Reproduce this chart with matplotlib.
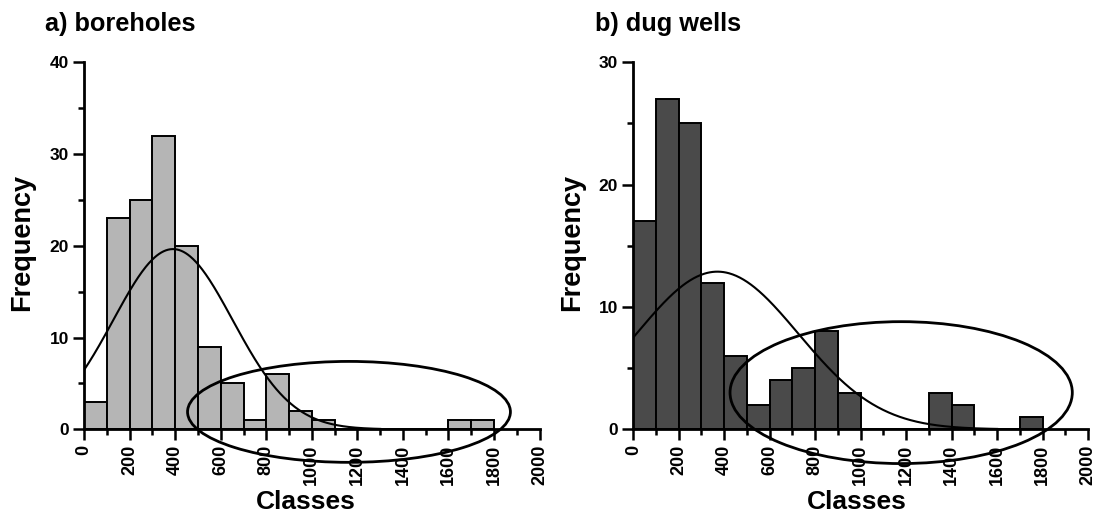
import numpy as np
import matplotlib
matplotlib.use("Agg")
import matplotlib.pyplot as plt
from matplotlib.patches import Ellipse
from matplotlib.ticker import MultipleLocator

plt.rcParams['font.family'] = ['Liberation Sans', 'DejaVu Sans']
plt.rcParams['font.weight'] = 'bold'

# Class edges (width 100) and frequencies
bin_starts = [0, 100, 200, 300, 400, 500, 600, 700, 800, 900,
              1000, 1100, 1200, 1300, 1400, 1500, 1600, 1700]
bin_width = 100
boreholes_freq = [3, 23, 25, 32, 20, 9, 5, 1, 6, 2, 1, 0, 0, 0, 0, 0, 1, 1]
dugwells_freq = [17, 27, 25, 12, 6, 2, 4, 5, 8, 3, 0, 0, 0, 3, 2, 0, 0, 1]

# Fitted normal curve parameters (mean, standard deviation)
boreholes_fit = (390, 262)
dugwells_fit = (370, 356)

# Highlight ellipses: centre x, centre y, width, height (data units)
boreholes_ellipse = (1163, 1.9, 1418, 11.0)
dugwells_ellipse = (1178, 3.0, 1505, 11.6)

x_ticks = [0, 200, 400, 600, 800, 1000, 1200, 1400, 1600, 1800, 2000]

fig = plt.figure(figsize=(10.96, 5.12), dpi=100)
ax_a = fig.add_axes([0.0768, 0.1615, 0.4155, 0.7168])
ax_b = fig.add_axes([0.5778, 0.1615, 0.4150, 0.7168])


def draw_panel(ax, freq, fit, ell, color, ymax, ystep, curve_end):
    ax.bar(bin_starts, freq, width=bin_width, align='edge', color=color,
           edgecolor='black', linewidth=1.4, zorder=2)
    n = sum(freq)
    mu, sd = fit
    xs = np.linspace(0, curve_end, 400)
    ys = n * bin_width / (sd * np.sqrt(2 * np.pi)) * np.exp(-0.5 * ((xs - mu) / sd) ** 2)
    ax.plot(xs, ys, color='black', linewidth=1.5, zorder=3)
    cx, cy, w, h = ell
    ax.add_patch(Ellipse((cx, cy), w, h, fill=False, edgecolor='black',
                         linewidth=2.0, clip_on=False, zorder=4))
    ax.set_xlim(0, 2000)
    ax.set_ylim(0, ymax)
    ax.set_xticks(x_ticks)
    ax.set_xticklabels([str(t) for t in x_ticks], rotation=90, fontsize=13,
                       fontweight='bold')
    ax.xaxis.set_minor_locator(MultipleLocator(100))
    ax.yaxis.set_major_locator(MultipleLocator(ystep))
    ax.yaxis.set_minor_locator(MultipleLocator(ystep / 2))
    for lab in ax.get_yticklabels():
        lab.set_fontsize(12.5)
        lab.set_fontweight('bold')
    ax.tick_params(which='major', length=8, width=1.8, direction='out', pad=3)
    ax.tick_params(which='minor', length=4.5, width=1.8, direction='out')
    for s in ('top', 'right'):
        ax.spines[s].set_visible(False)
    for s in ('left', 'bottom'):
        ax.spines[s].set_linewidth(2.0)


draw_panel(ax_a, boreholes_freq, boreholes_fit, boreholes_ellipse,
           '#b5b5b5', 40, 10, 1300)
draw_panel(ax_b, dugwells_freq, dugwells_fit, dugwells_ellipse,
           '#4a4a4a', 30, 10, 1600)

W, H = 1096, 512
fig.text(45 / W, 1 - 24 / H, 'a) boreholes', fontsize=18.3, fontweight='bold',
         ha='left', va='center')
fig.text(595 / W, 1 - 24 / H, 'b) dug wells', fontsize=18.3, fontweight='bold',
         ha='left', va='center')
for xc in (22, 572):
    fig.text(xc / W, 1 - 242 / H, 'Frequency', fontsize=19.5, fontweight='bold',
             rotation=90, ha='center', va='center')
for xc in (306, 857):
    fig.text(xc / W, 3 / H, 'Classes', fontsize=19, fontweight='bold',
             ha='center', va='baseline')

fig.savefig('out.png', dpi=100, facecolor='white')
